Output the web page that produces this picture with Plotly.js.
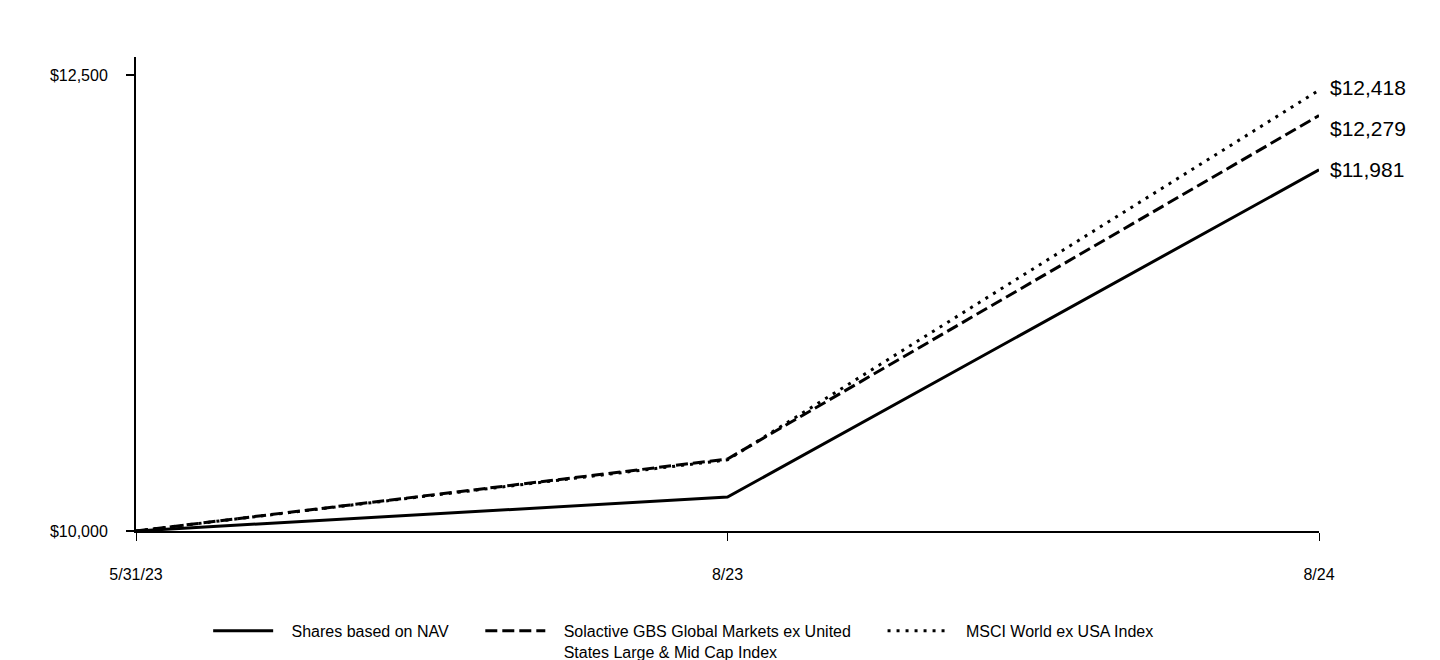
<!DOCTYPE html>
<html>
<head>
<meta charset="utf-8">
<script src="https://cdn.plot.ly/plotly-3.0.1.min.js"></script>
<style>html,body{margin:0;padding:0;background:#fff;}#chart{width:1440px;height:660px;}</style>
</head>
<body>
<div id="chart"></div>
<script>
const dates = ["5/31/23", "8/23", "8/24"];
const navValues = [10000, 10186, 11981];
const solactiveValues = [10000, 10395, 12279];
const msciValues = [10000, 10390, 12418];
const seriesNames = [
  "Shares based on NAV",
  "Solactive GBS Global Markets ex United",
  "MSCI World ex USA Index"
];
const seriesNames2 = ["", "States Large & Mid Cap Index", ""];
const endLabels = ["$11,981", "$12,279", "$12,418"];
const yTickVals = [10000, 12500];
const yTickText = ["$10,000", "$12,500"];

const font = "Arial, 'Liberation Sans', sans-serif";
const pre = "\u00A0\u00A0\u00A0";
const post = "\u00A0\u00A0\u00A0\u00A0\u00A0\u00A0";
function legendName(i) {
  let s = pre + seriesNames[i] + post;
  if (seriesNames2[i]) s += "<br>" + pre + seriesNames2[i];
  return s;
}
const lw = 3;
const traces = [
  {x: dates, y: navValues, name: legendName(0), mode: "lines", line: {color: "#000", width: lw, dash: "solid"}},
  {x: dates, y: solactiveValues, name: legendName(1), mode: "lines", line: {color: "#000", width: lw, dash: "12px,5px"}},
  {x: dates, y: msciValues, name: legendName(2), mode: "lines", line: {color: "#000", width: lw, dash: "3px,6px"}}
];
const finals = [navValues[2], solactiveValues[2], msciValues[2]];
const labelShift = [0, -13, 3];
const annotations = finals.map((v, i) => ({
  x: dates[2], y: v, xref: "x", yref: "y", text: endLabels[i], showarrow: false,
  xanchor: "left", yanchor: "middle", xshift: 9, yshift: labelShift[i],
  font: {family: font, size: 21, color: "#000"}
}));
const layout = {
  width: 1440, height: 660,
  margin: {l: 136, r: 121, t: 57, b: 129, autoexpand: false},
  paper_bgcolor: "#fff", plot_bgcolor: "#fff",
  font: {family: font, color: "#000"},
  showlegend: true,
  legend: {
    orientation: "h", x: 0.061, xanchor: "left", y: -0.175, yanchor: "top",
    font: {family: font, size: 16, color: "#000"}, itemwidth: 60, valign: "top",
    traceorder: "normal", bgcolor: "rgba(0,0,0,0)"
  },
  xaxis: {
    type: "category", range: [0, 2], showgrid: false, zeroline: false,
    showline: true, linecolor: "#000", linewidth: 2,
    ticks: "outside", ticklen: 8, tickcolor: "#000", tickwidth: 1,
    tickfont: {family: font, size: 16, color: "#000"}, ticklabelstandoff: 20
  },
  yaxis: {
    range: [10000, 12600], showgrid: false, zeroline: false,
    showline: true, linecolor: "#000", linewidth: 2,
    ticks: "outside", ticklen: 8, tickcolor: "#000", tickwidth: 2,
    tickvals: yTickVals, ticktext: yTickText,
    tickfont: {family: font, size: 16, color: "#000"}, ticklabelstandoff: 15
  },
  annotations: annotations
};
Plotly.newPlot("chart", traces, layout, {displayModeBar: false, staticPlot: true});
</script>
</body>
</html>
